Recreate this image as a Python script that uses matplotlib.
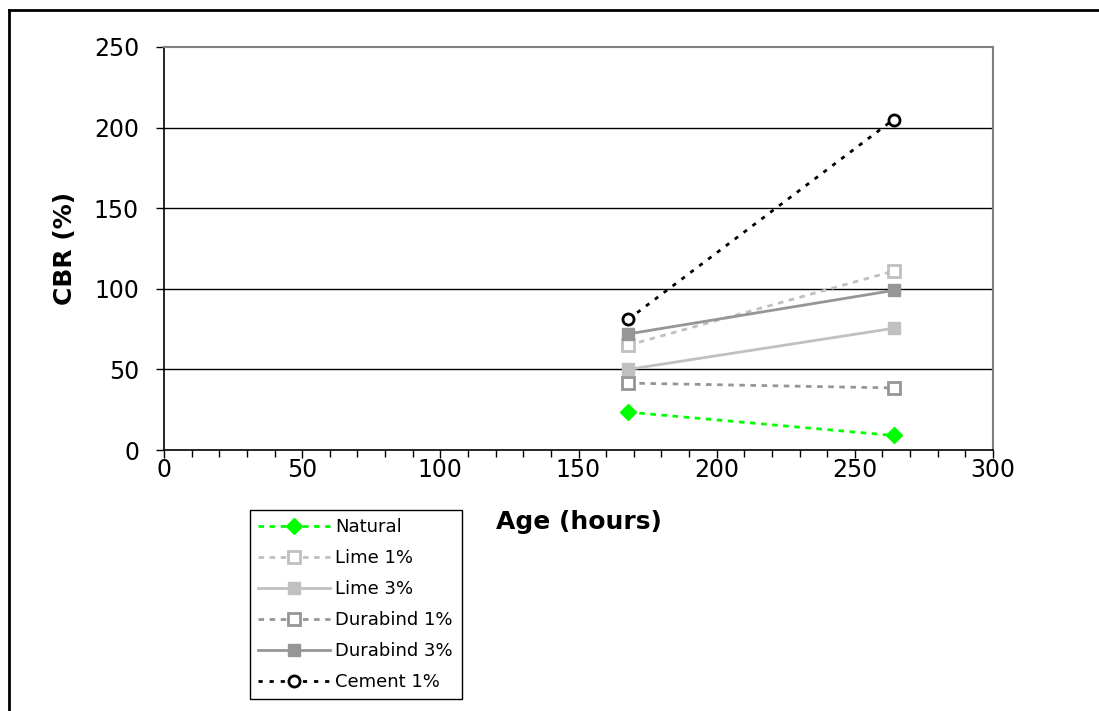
import matplotlib
matplotlib.use("Agg")
import matplotlib.pyplot as plt
from matplotlib.lines import Line2D
from matplotlib.ticker import MultipleLocator

plt.rcParams['font.family'] = ['DejaVu Sans']

age = [168, 264]
series_names = ["Natural", "Lime 1%", "Lime 3%", "Durabind 1%", "Durabind 3%", "Cement 1%"]
natural = [23.5, 9]
lime1 = [65, 111]
lime3 = [50, 75.5]
durabind1 = [41.5, 38.5]
durabind3 = [72, 99]
cement1 = [81, 205]
values = [natural, lime1, lime3, durabind1, durabind3, cement1]

x_ticks = [0, 50, 100, 150, 200, 250, 300]
y_ticks = [0, 50, 100, 150, 200, 250]

styles = [
    dict(color="#00FF00", ls=(0, (2, 2)), marker="D", mfc="#00FF00", mec="#00FF00", ms=8),
    dict(color="#C0C0C0", ls=(0, (2, 2)), marker="s", mfc="white", mec="#C0C0C0", ms=9, mew=2),
    dict(color="#C0C0C0", ls="-", marker="s", mfc="#C0C0C0", mec="#C0C0C0", ms=9),
    dict(color="#969696", ls=(0, (2, 2)), marker="s", mfc="white", mec="#969696", ms=9, mew=2),
    dict(color="#969696", ls="-", marker="s", mfc="#969696", mec="#969696", ms=9),
    dict(color="black", ls=(0, (1.5, 2.5)), marker="o", mfc="white", mec="black", ms=8, mew=2),
]

fig = plt.figure(figsize=(10.99, 7.11), dpi=100)
ax = fig.add_axes([164/1099, 1-450/711, (993-164)/1099, (450-47)/711])

handles = []
for name, vals, st in zip(series_names, values, styles):
    h, = ax.plot(age, vals, label=name, lw=2, zorder=3, **st)
    handles.append(h)

ax.set_xlim(0, 300)
ax.set_ylim(0, 250)
ax.set_xticks(x_ticks)
ax.set_yticks(y_ticks)
ax.xaxis.set_minor_locator(MultipleLocator(10))
ax.tick_params(axis='both', which='major', labelsize=17, length=6, width=1, direction='out', color='black')
ax.tick_params(axis='x', which='minor', length=5, width=1, direction='out', color='black')
ax.tick_params(axis='x', which='major', length=6, pad=0)
ax.tick_params(axis='y', pad=12)

for y in y_ticks[1:-1]:
    ax.axhline(y, color='black', lw=1, zorder=1)

ax.spines['left'].set_color('black')
ax.spines['bottom'].set_color('black')
ax.spines['left'].set_linewidth(1.2)
ax.spines['bottom'].set_linewidth(1.2)
ax.spines['top'].set_color('#808080')
ax.spines['right'].set_color('#808080')
ax.spines['top'].set_linewidth(1.5)
ax.spines['right'].set_linewidth(1.5)

ax.set_xlabel("Age (hours)", fontsize=18, fontweight='bold', labelpad=20)
ax.set_ylabel("CBR (%)", fontsize=18, fontweight='bold', labelpad=12)

leg = fig.legend(handles=handles, labels=series_names, loc='upper left',
                 bbox_to_anchor=(250/1099, 1-701/711, 212/1099, 191/711),
                 bbox_transform=fig.transFigure, mode='expand', fontsize=13, frameon=True,
                 fancybox=False, edgecolor='black', framealpha=1, handlelength=4.0,
                 labelspacing=0.72, borderaxespad=0, borderpad=0.45, handletextpad=0.25)
leg.get_frame().set_linewidth(1)

fig.lines.append(Line2D([9/1099, 9/1099], [0, 1-10/711], transform=fig.transFigure, color='black', lw=2))
fig.lines.append(Line2D([9/1099, 1], [1-10/711, 1-10/711], transform=fig.transFigure, color='black', lw=2))

fig.savefig("out.png", dpi=100)
